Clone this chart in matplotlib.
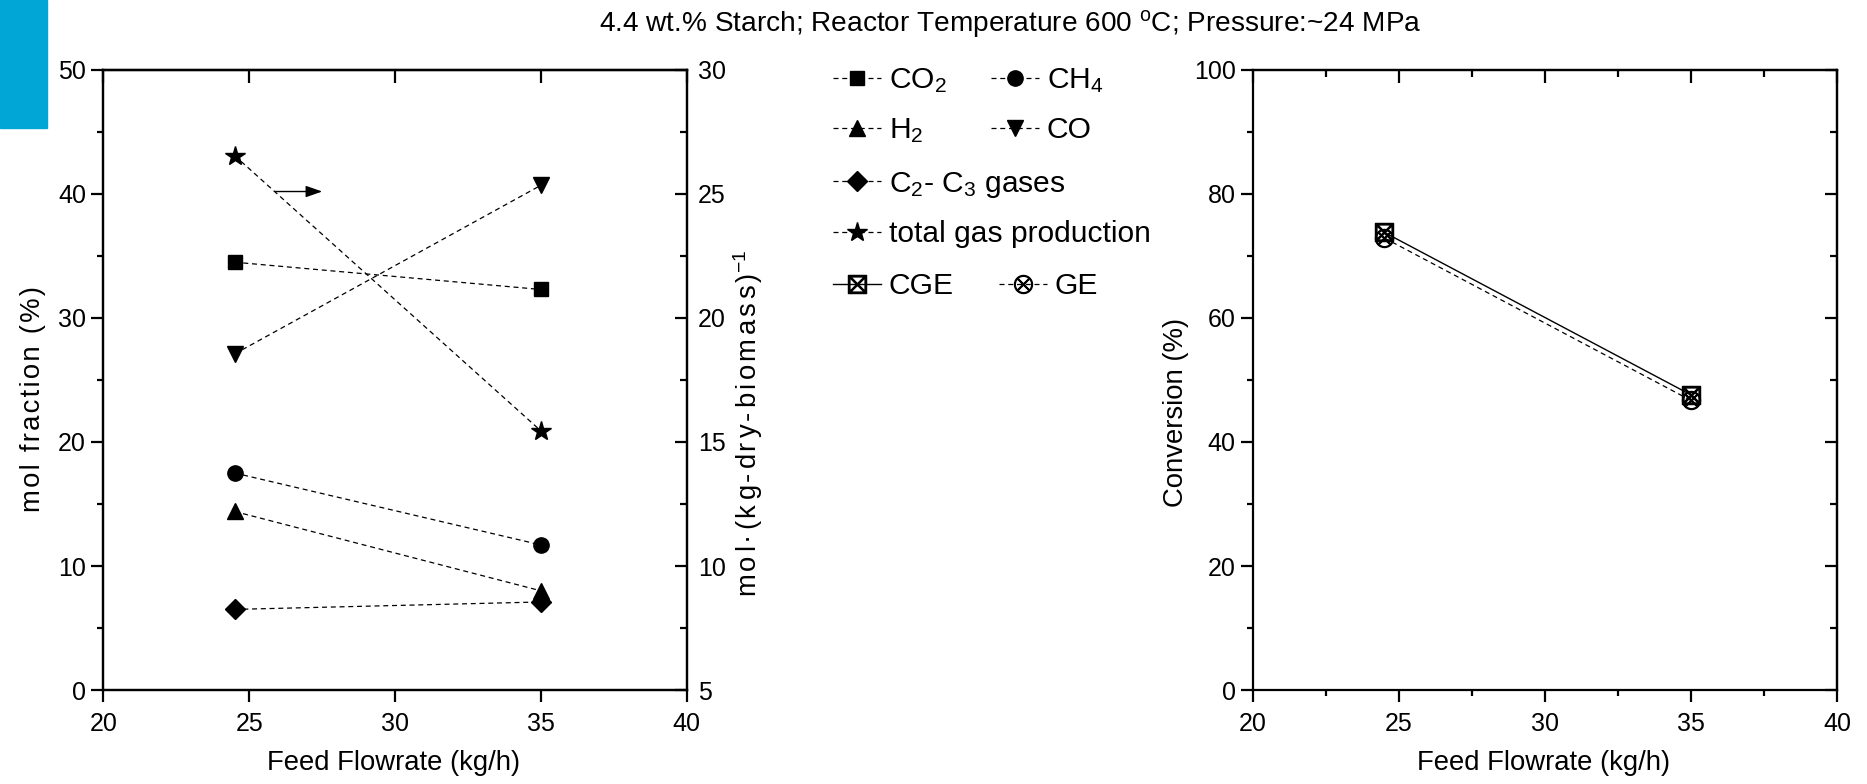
import matplotlib
matplotlib.use("Agg")
import matplotlib.pyplot as plt
from matplotlib import font_manager
from matplotlib.patches import Rectangle
from matplotlib.ticker import MultipleLocator

# the original uses a condensed Arial-like face; use the narrow one if present
names = {f.name for f in font_manager.fontManager.ttflist}
if "Liberation Sans Narrow" in names:
    base, k = "Liberation Sans Narrow", 1.0
else:
    base, k = "Liberation Sans", 0.9

plt.rcParams["font.family"] = [base, "DejaVu Sans"]
plt.rcParams["mathtext.fontset"] = "custom"
plt.rcParams["mathtext.rm"] = base
plt.rcParams["mathtext.it"] = base + ":italic"
plt.rcParams["mathtext.bf"] = base + ":bold"

# ---------------- data ----------------
feed = [24.5, 35.0]                 # kg/h
co2 = [34.5, 32.3]                  # mol %
ch4 = [17.5, 11.7]
h2 = [14.4, 8.0]
co = [27.1, 40.7]
c2c3 = [6.5, 7.1]
total_gas = [26.55, 15.45]          # mol/(kg dry biomass)
cge = [73.8, 47.6]                  # %
ge = [72.9, 46.7]

title = "4.4 wt.% Starch; Reactor Temperature 600 $^{\\mathrm{o}}$C; Pressure:~24 MPa"


def spaced(s, extra=0):
    # Origin-style letter spacing: hair spaces between letters,
    # one more on every second gap when extra=1
    out = ""
    for i, c in enumerate(s[:-1]):
        out += c + "\u200a" * (1 + extra * (i % 2))
    return out + s[-1]


W, H = 1867, 784
fig = plt.figure(figsize=(W / 100, H / 100), dpi=100)

ax1 = fig.add_axes([103.3 / W, 1 - 690 / H, 583.4 / W, 620 / H])
ax3 = fig.add_axes([1253 / W, 1 - 690 / H, 584 / W, 620 / H])
ax2 = ax1.twinx()

dash = (0, (4, 3))
kw = dict(color="black", lw=0.9, ls=dash, markeredgecolor="black")
l_co2, = ax1.plot(feed, co2, marker="s", ms=10, label="CO$_2$", **kw)
l_ch4, = ax1.plot(feed, ch4, marker="o", ms=11, label="CH$_4$", **kw)
l_h2, = ax1.plot(feed, h2, marker="^", ms=12, label="H$_2$", **kw)
l_co, = ax1.plot(feed, co, marker="v", ms=12, label="CO", **kw)
l_c23, = ax1.plot(feed, c2c3, marker="D", ms=10, label="C$_2$- C$_3$ gases", **kw)
l_tot, = ax2.plot(feed, total_gas, marker="*", ms=15, label="total gas production", **kw)

l_cge, = ax3.plot(feed, cge, color="black", lw=1.0, marker="$\\boxtimes$", ms=13,
                  label="CGE")
l_ge, = ax3.plot(feed, ge, color="black", lw=0.9, ls=dash, marker="$\\otimes$", ms=13,
                 label="GE")

ax1.annotate("", xy=(27.6, 40.2), xytext=(25.8, 40.2),
             arrowprops=dict(arrowstyle="-|>,head_length=1.0,head_width=0.35",
                             color="black", lw=1.0))

# ---------------- axes styling ----------------
spine_w = 1.6
tick_font = 20 * k
lab = 22 * k


def style(ax, xminor):
    for sp in ax.spines.values():
        sp.set_linewidth(spine_w)
    ax.tick_params(which="major", direction="out", length=8.5, width=spine_w,
                   labelsize=tick_font, top=False, right=False)
    ax.tick_params(which="minor", direction="out", length=4.5, width=spine_w,
                   top=False, right=False)
    ax.tick_params(axis="x", pad=7)
    ax.tick_params(axis="y", pad=4)
    ax.xaxis.set_major_locator(MultipleLocator(5))
    if xminor:
        ax.xaxis.set_minor_locator(MultipleLocator(xminor))
    top = ax.secondary_xaxis("top")
    top.xaxis.set_major_locator(MultipleLocator(5))
    if xminor:
        top.xaxis.set_minor_locator(MultipleLocator(xminor))
    top.tick_params(which="major", direction="in", length=9, width=spine_w, labeltop=False)
    top.tick_params(which="minor", direction="in", length=5, width=spine_w)
    top.spines["top"].set_linewidth(spine_w)
    ax.set_xlim(20, 40)


style(ax1, None)
ax1.set_ylim(0, 50)
ax1.yaxis.set_major_locator(MultipleLocator(10))
ax1.yaxis.set_minor_locator(MultipleLocator(5))

ax2.set_ylim(5, 30)
ax2.yaxis.set_major_locator(MultipleLocator(5))
ax2.yaxis.set_minor_locator(MultipleLocator(2.5))
ax2.tick_params(which="major", direction="in", length=9, width=spine_w,
                labelsize=tick_font, pad=8)
ax2.tick_params(which="minor", direction="in", length=5, width=spine_w)
for sp in ax2.spines.values():
    sp.set_linewidth(spine_w)

style(ax3, 2.5)
ax3.set_ylim(0, 100)
ax3.yaxis.set_major_locator(MultipleLocator(20))
ax3.yaxis.set_minor_locator(MultipleLocator(10))
rt = ax3.secondary_yaxis("right")
rt.yaxis.set_major_locator(MultipleLocator(20))
rt.yaxis.set_minor_locator(MultipleLocator(10))
rt.tick_params(which="major", direction="in", length=9, width=spine_w, labelright=False)
rt.tick_params(which="minor", direction="in", length=5, width=spine_w)
rt.spines["right"].set_linewidth(spine_w)

ax1.set_xlabel("Feed Flowrate (kg/h)", fontsize=lab, va="center")
ax1.xaxis.set_label_coords(0.497, -0.118)
ax1.set_ylabel(spaced("mol fraction (%)"), fontsize=lab, va="center")
ax1.yaxis.set_label_coords(-0.12, 0.47)
ax2.set_ylabel(spaced("mol\u00b7(kg-dry-biomass)", extra=1) + "$^{-1}$", fontsize=lab,
               va="center")
ax2.yaxis.set_label_coords(1.105, 0.43)
ax3.set_xlabel("Feed Flowrate (kg/h)", fontsize=lab, va="center")
ax3.xaxis.set_label_coords(0.498, -0.118)
ax3.set_ylabel("Conversion (%)", fontsize=lab, va="center")
ax3.yaxis.set_label_coords(-0.132, 0.448)

fig.text(0.541, 0.969, title, ha="center", va="center", fontsize=24 * 0.84)

# ---------------- legend, built row group by row group ----------------
leg_kw = dict(frameon=False, fontsize=24 * k, handlelength=1.6, handletextpad=0.25,
              borderpad=0, borderaxespad=0, labelspacing=0.7, loc="center left")
x_leg = 833 / W
fig.legend([l_co2, l_h2, l_ch4, l_co], ["CO$_2$", "H$_2$", "CH$_4$", "CO"], ncol=2,
           columnspacing=1.5, bbox_to_anchor=(x_leg, 1 - 106 / H), **leg_kw)
fig.legend([l_c23, l_tot], ["C$_2$- C$_3$ gases", "total gas production"],
           bbox_to_anchor=(x_leg, 1 - 209 / H), **leg_kw)
fig.legend([l_cge, l_ge], ["CGE", "GE"], ncol=2, columnspacing=1.5,
           bbox_to_anchor=(x_leg, 1 - 286 / H), **leg_kw)

# blue tab in the upper-left corner
fig.patches.append(Rectangle((0, 1 - 128 / H), 47 / W, 128 / H, transform=fig.transFigure,
                             color="#02A6D6", zorder=0))

fig.savefig("out.png", dpi=100)
